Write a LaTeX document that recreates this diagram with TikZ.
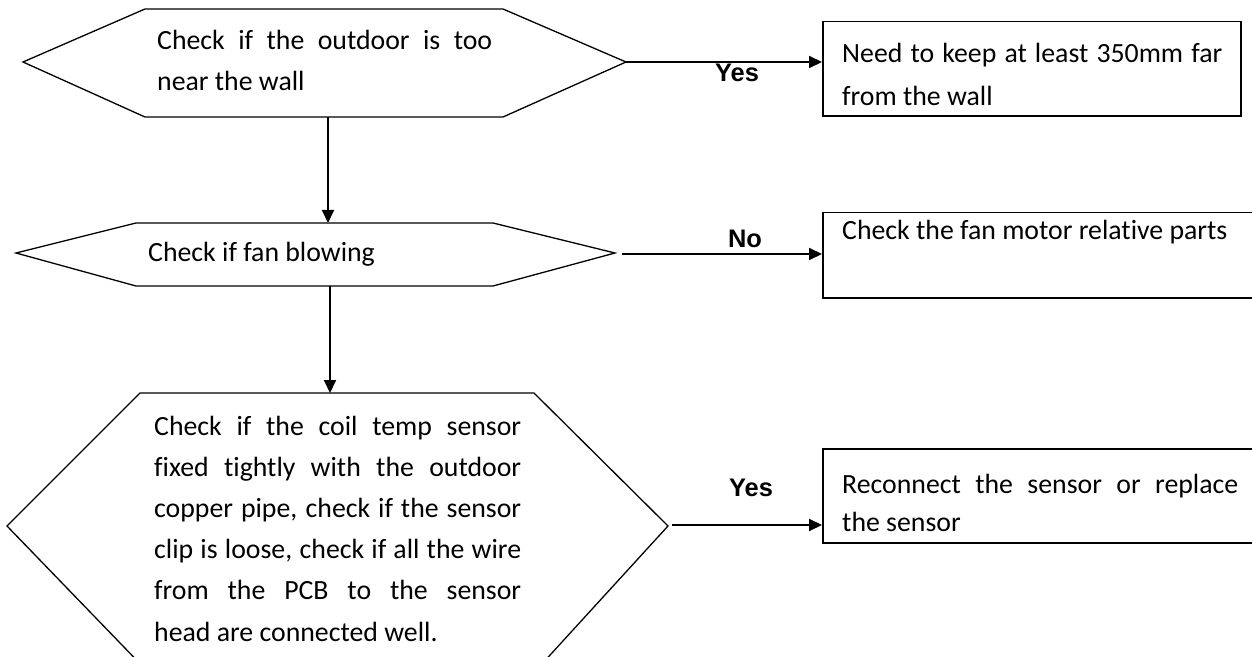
\documentclass[tikz,border=0pt]{standalone}
\usepackage{fontspec}
\setmainfont{Carlito}[Ligatures=NoCommon]
\newfontfamily\lblfont{Liberation Sans}
\usetikzlibrary{arrows.meta}
\newcommand\jl[2]{\makebox[#1][s]{#2}}
\begin{document}
\begin{tikzpicture}[x=1bp,y=-1bp,
  hexshape/.style={draw, line width=1.3bp, line join=miter},
  boxshape/.style={draw, line width=1.5bp, anchor=north west, inner sep=0pt},
  conn/.style={line width=2bp, -{Triangle[length=13bp,width=12bp]}},
  txt/.style={anchor=base west, inner sep=0pt, font=\fontsize{27.9}{34}\selectfont},
  lbl/.style={inner sep=0pt, font=\lblfont\bfseries\fontsize{25.5}{30}\selectfont}]
\useasboundingbox (0,0) rectangle (1252,657);
\clip (0,0) rectangle (1252,657);

% hexagon 1
\draw[hexshape] (23,62) -- (145,9) -- (503,9) -- (626,62) -- (503,117) -- (145,117) -- cycle;
\coordinate (h1e) at (626,62);
\coordinate (h1s) at (328,117);
% hexagon 2
\draw[hexshape] (16,253) -- (136,223) -- (493,223) -- (615,253) -- (493,286) -- (136,286) -- cycle;
\coordinate (h2n) at (328,223);
\coordinate (h2s) at (330,286);
\coordinate (h2e) at (615,254);
% hexagon 3
\draw[hexshape] (7,526) -- (140,393) -- (534,393) -- (668,526) -- (546,659.5) -- (136,659.5) -- cycle;
\coordinate (h3n) at (330,393);
\coordinate (h3e) at (668,525);

% boxes
\node[boxshape, minimum width=418bp, minimum height=94bp] (b1) at (822,21) {};
\node[boxshape, minimum width=450bp, minimum height=85bp] (b2) at (822,212) {};
\node[boxshape, minimum width=450bp, minimum height=94bp] (b3) at (822,448) {};

% connectors
\draw[conn] (h1e) -- (h1e -| b1.west);
\draw[conn] (h1s) -- (h2n);
\draw[conn, shorten <=7bp] (h2e) -- (h2e -| b2.west);
\draw[conn] (h2s) -- (h3n);
\draw[conn, shorten <=4bp] (h3e) -- (h3e -| b3.west);

% labels
\node[lbl] (y1) at (737,73) {Yes};
\node[lbl] (n2) at (745,239) {No};
\node[lbl] (y3) at (751,488) {Yes};

% texts
\node[txt] (t1a) at (157,50) {\jl{335bp}{Check if the outdoor is too}};
\node[txt] (t1b) at (157,91) {near the wall};
\node[txt] (t2) at (148,261) {Check if fan blowing};
\node[txt] (t3a) at (154,435) {\jl{367bp}{Check if the coil temp sensor}};
\node[txt] (t3b) at (154,476.2) {\jl{367bp}{fixed tightly with the outdoor}};
\node[txt] (t3c) at (154,517.4) {\jl{367bp}{copper pipe, check if the sensor}};
\node[txt] (t3d) at (154,558.6) {\jl{367bp}{clip is loose, check if all the wire}};
\node[txt] (t3e) at (154,599.8) {\jl{367bp}{from the PCB to the sensor}};
\node[txt] (t3f) at (154,641) {head are connected well.};
\node[txt] (tb1a) at (842,63) {\jl{380bp}{Need to keep at least 350mm far}};
\node[txt] (tb1b) at (842,106) {from the wall};
\node[txt] (tb2) at (842,240) {Check the fan motor relative parts};
\node[txt] (tb3a) at (842,493) {\jl{396bp}{Reconnect the sensor or replace}};
\node[txt] (tb3b) at (842,531) {the sensor};
\end{tikzpicture}
\end{document}
